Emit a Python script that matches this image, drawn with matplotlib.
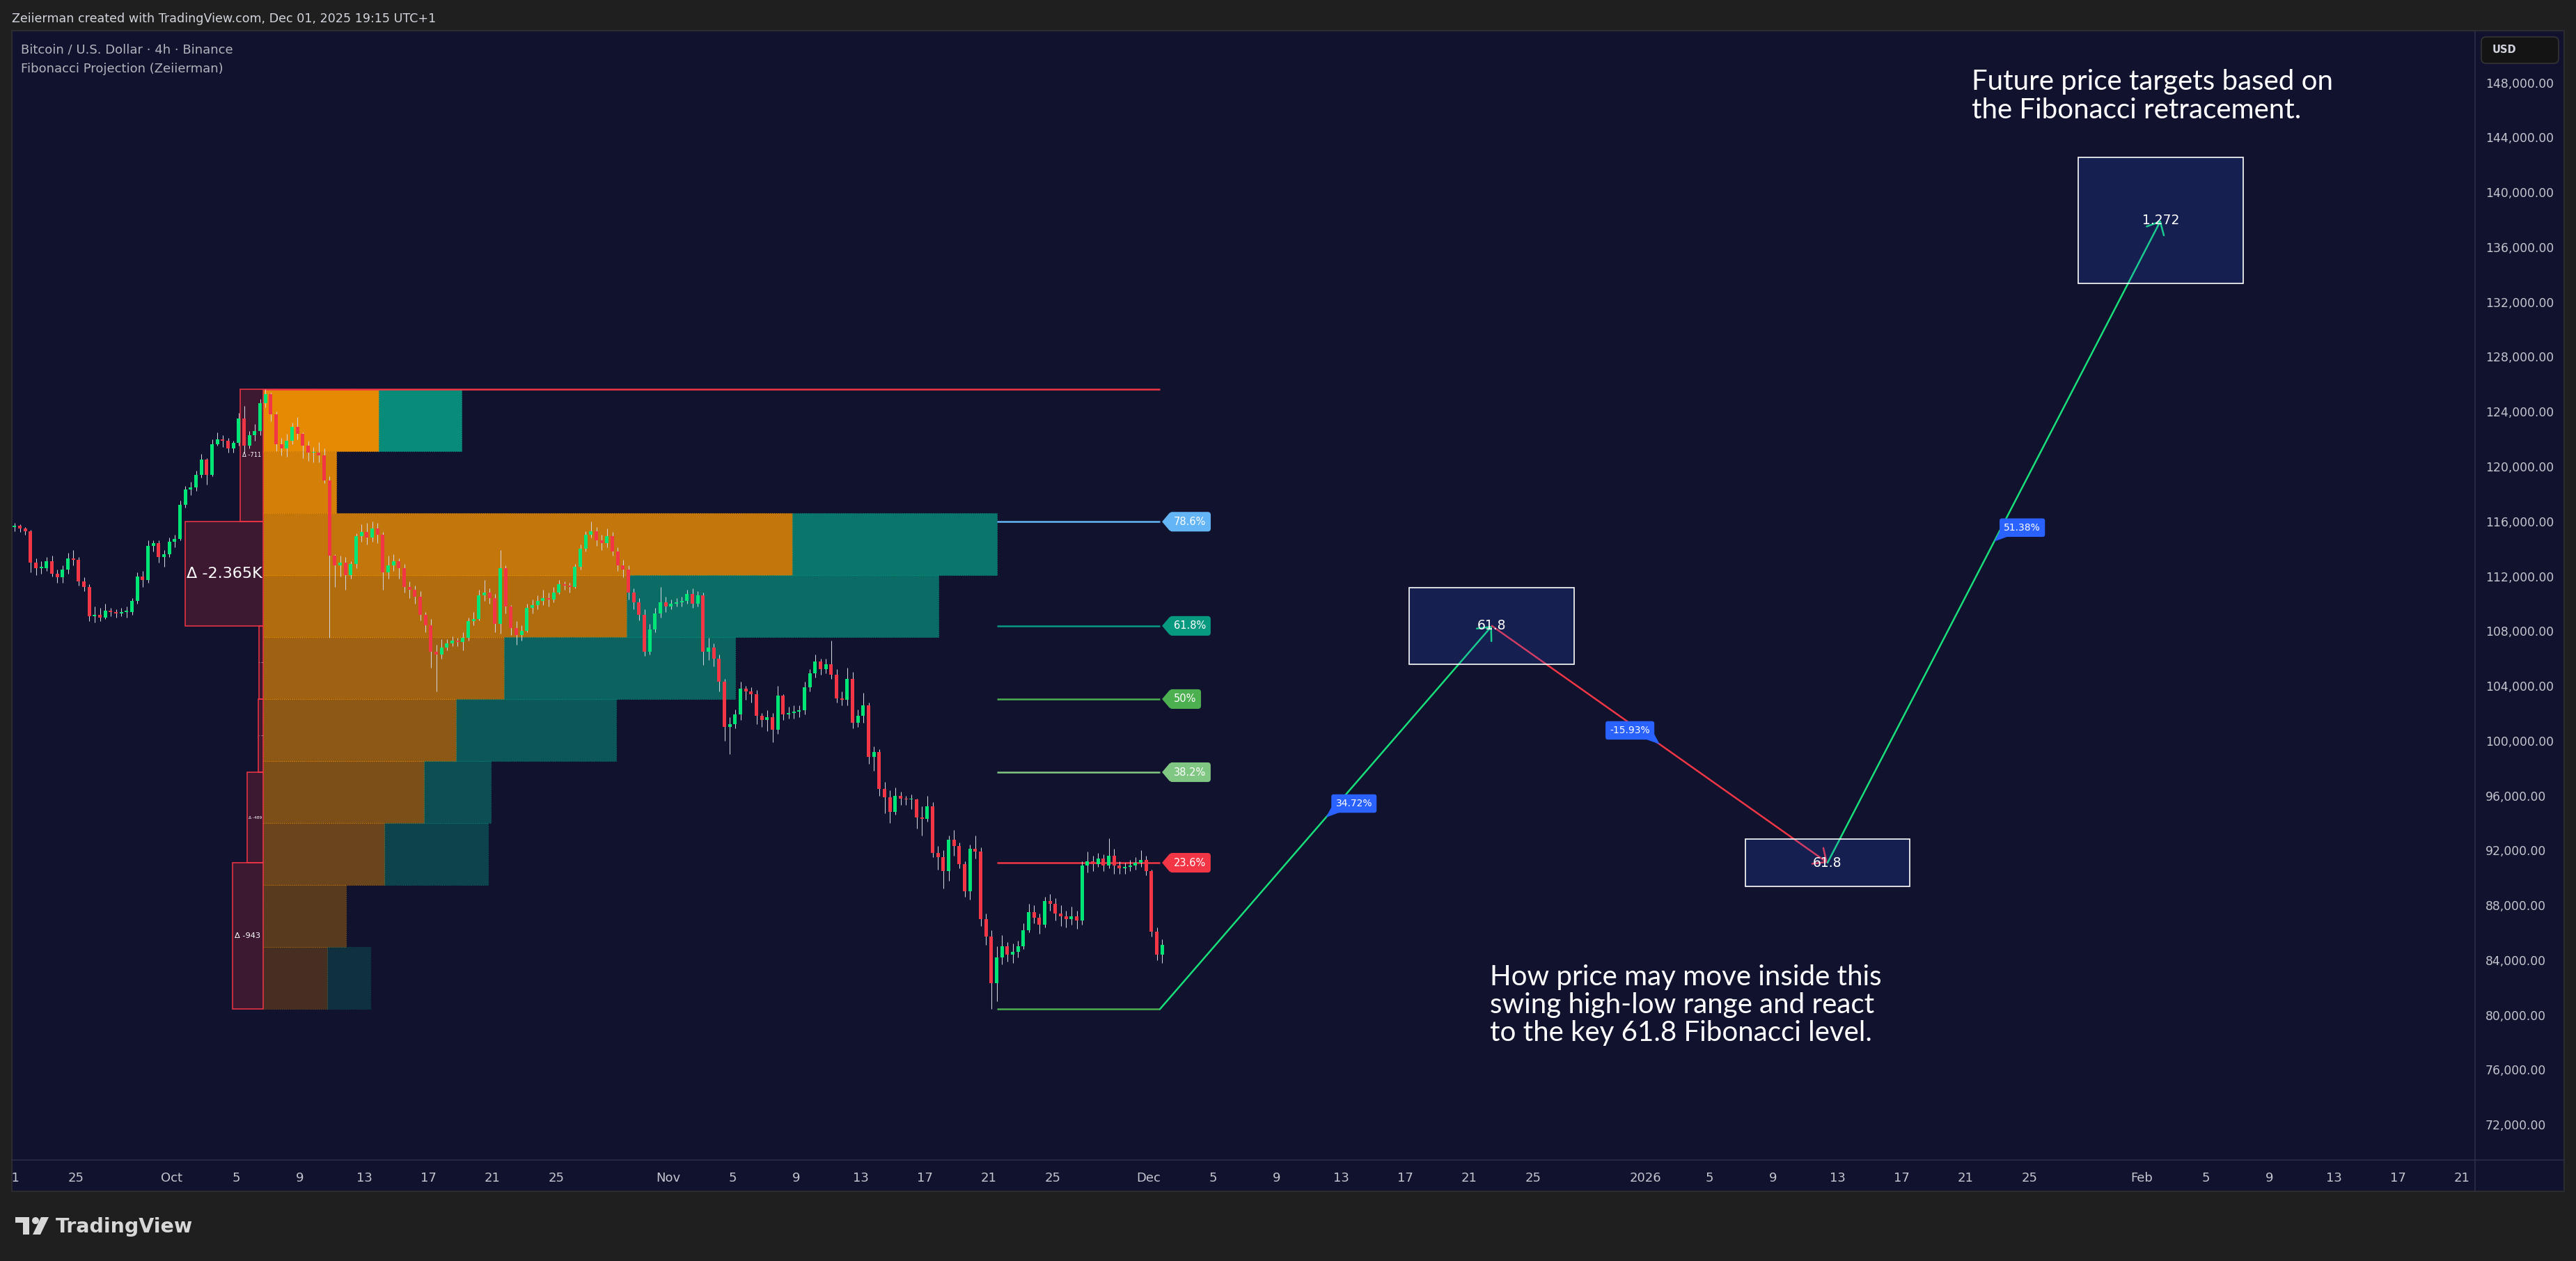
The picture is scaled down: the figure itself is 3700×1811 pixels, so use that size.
import matplotlib
matplotlib.use("Agg")
import numpy as np
import matplotlib.pyplot as plt
from matplotlib.patches import Rectangle, Polygon, Circle, FancyBboxPatch
from matplotlib.colors import to_rgba

# BTC/USD (Binance) 8h candles from Sep 21 2025 00:00, prices in $k
first_open = 115.6
closes = [
    115.7, 115.5, 115.3,  113.0, 112.6, 112.6,  113.1, 112.2, 111.9,  112.5, 113.3, 113.2,   # Sep 21-24
    111.6, 111.2, 109.1,  109.2, 109.0, 109.5,  109.4, 109.3, 109.4,  109.4, 110.2, 112.0,   # Sep 25-28
    111.7, 114.2, 114.4,  113.4, 113.6, 114.5,                                               # Sep 29-30
    114.7, 117.2, 118.3,  118.5, 119.4, 120.5,  119.4, 121.6, 122.0,  121.9, 121.3, 121.7,   # Oct 1-4
    123.5, 121.5, 122.3,  122.6, 124.6, 125.3,  123.8, 121.6, 121.3,  121.9, 122.9, 122.4,   # Oct 5-8
    121.5, 121.0, 121.0,  120.8, 119.0, 113.5,  112.8, 113.0, 112.1,  112.9, 114.9, 115.2,   # Oct 9-12
    114.8, 115.5, 115.0,  112.3, 112.8, 113.1,  112.6, 111.2, 111.0,  110.5, 109.2, 108.4,   # Oct 13-16
    106.5, 106.3, 106.8,  107.1, 107.3, 107.2,  107.5, 108.7, 108.9,  110.6, 110.8, 110.4,   # Oct 17-20
    108.5, 112.6, 109.8,  108.2, 107.7, 108.0,  109.7, 109.9, 110.2,  110.4, 110.3, 110.8,   # Oct 21-24
    111.4, 111.3, 111.2,  112.7, 114.0, 115.0,  115.3, 114.6, 114.4,  114.9, 113.8, 112.8,   # Oct 25-28
    112.5, 110.8, 110.1,  109.2, 106.5, 108.1,  109.3, 110.1, 109.8,                         # Oct 29-31
    110.0, 110.1, 110.2,  110.7, 110.0, 110.6,  106.5, 106.8, 106.0,  104.3, 101.0, 101.2,   # Nov 1-4
    101.9, 103.8, 103.6,  103.4, 101.8, 101.5,  101.7, 100.8, 103.3,  101.9, 102.0, 102.1,   # Nov 5-8
    102.2, 103.9, 104.9,  105.8, 105.2, 105.6,  104.8, 103.1, 103.0,  104.5, 101.3, 101.8,   # Nov 9-12
    102.6, 98.8, 99.2,    96.5, 95.9, 94.8,     96.0, 95.8, 95.7,     95.7, 94.4, 94.3,      # Nov 13-16
    95.2, 91.8, 91.5,     90.5, 92.8, 92.3,     91.0, 89.0, 92.1,     91.9, 87.0, 85.7,      # Nov 17-20
    82.3, 84.2, 85.0,     84.4, 84.6, 85.0,     86.2, 87.5, 87.1,     86.6, 88.3, 88.1,      # Nov 21-24
    87.4, 87.2, 87.0,     87.2, 86.9, 90.9,     91.2, 91.0, 91.4,     90.9, 91.6, 90.9,      # Nov 25-28
    90.7, 90.8, 90.9,     91.1, 91.3, 90.5,     86.1, 84.4, 85.1,                            # Nov 29 - Dec 1
]
highs = [
    115.9, 115.8, 115.6,  115.4, 113.3, 113.1,  113.4, 113.5, 112.5,  112.8, 113.7, 113.9,
    113.4, 111.9, 111.4,  109.8, 109.7, 110.0,  109.7, 109.6, 109.7,  109.8, 110.4, 112.3,
    112.4, 114.6, 114.6,  114.6, 113.9, 114.8,
    115.0, 117.5, 118.6,  118.9, 119.7, 120.9,  120.6, 122.0, 122.5,  122.3, 122.1, 121.9,
    123.9, 124.4, 122.6,  123.1, 124.9, 125.65, 125.4, 124.0, 122.1,  122.4, 123.2, 123.6,
    122.5, 121.9, 121.4,  121.8, 121.3, 119.3,  113.6, 113.5, 113.4,  113.1, 115.1, 115.8,
    115.9, 116.0, 115.9,  115.2, 113.5, 113.6,  113.3, 112.9, 111.6,  111.3, 110.9, 109.4,
    108.9, 107.0, 107.4,  107.4, 107.6, 107.5,  107.9, 109.0, 109.4,  111.0, 111.7, 111.1,
    110.7, 113.9, 112.8,  109.9, 108.7, 108.4,  110.0, 110.3, 110.6,  111.0, 110.8, 111.2,
    111.7, 111.6, 111.5,  112.9, 114.3, 115.3,  116.0, 115.6, 115.0,  115.5, 115.2, 114.1,
    113.2, 112.8, 111.1,  110.4, 109.6, 108.5,  109.7, 111.2, 110.5,
    110.3, 110.4, 110.5,  111.0, 111.1, 110.9,  110.8, 107.5, 107.1,  106.3, 104.5, 101.7,
    102.3, 104.3, 104.0,  103.9, 103.7, 102.0,  102.2, 102.0, 104.0,  103.4, 102.5, 102.6,
    102.6, 104.3, 105.2,  106.3, 106.0, 106.0,  107.3, 105.2, 103.6,  105.3, 105.0, 102.3,
    103.5, 102.8, 99.6,   99.4, 97.0, 96.4,     96.6, 96.3, 96.0,     96.1, 95.8, 95.2,
    96.0, 95.5, 92.3,     92.0, 93.1, 93.5,     92.6, 91.2, 92.4,     93.1, 92.2, 87.4,
    86.2, 85.0, 85.8,     85.3, 85.2, 85.4,     86.7, 88.1, 88.0,     87.4, 88.6, 88.8,
    88.5, 88.0, 87.6,     87.9, 87.6, 91.2,     91.9, 91.6, 91.8,     91.7, 92.9, 92.1,
    91.2, 91.1, 91.3,     91.5, 92.0, 91.6,     90.6, 86.4, 85.5,
]
lows = [
    115.3, 115.2, 115.0,  112.3, 112.1, 112.2,  112.4, 112.0, 111.5,  111.5, 112.2, 112.8,
    111.3, 110.9, 108.7,  108.6, 108.7, 108.9,  109.1, 109.0, 109.1,  109.0, 109.2, 110.0,
    111.2, 111.5, 113.8,  113.0, 112.7, 113.4,
    114.1, 114.6, 117.0,  117.9, 118.2, 119.2,  118.7, 119.3, 121.5,  121.4, 121.0, 121.0,
    121.5, 121.0, 121.3,  121.9, 122.3, 124.3,  123.3, 121.1, 120.8,  120.7, 121.6, 122.0,
    120.6, 120.4, 120.3,  120.3, 118.8, 107.5,  111.2, 112.0, 111.0,  111.8, 112.6, 114.5,
    114.3, 114.5, 114.4,  111.0, 111.8, 112.4,  111.8, 110.8, 110.4,  110.0, 108.8, 107.9,
    105.3, 103.6, 106.0,  106.6, 106.9, 106.9,  106.6, 107.3, 108.4,  108.8, 110.2, 110.0,
    107.9, 107.8, 109.3,  107.7, 107.0, 107.3,  107.9, 109.3, 109.6,  109.9, 109.8, 110.1,
    110.7, 111.0, 110.8,  111.1, 112.5, 113.8,  114.8, 114.2, 113.9,  114.1, 113.5, 112.4,
    111.9, 110.3, 109.6,  108.8, 106.2, 106.3,  107.9, 109.0, 109.4,
    109.6, 109.8, 109.8,  110.0, 109.7, 109.8,  105.5, 105.9, 105.4,  103.6, 100.0, 99.0,
    100.9, 101.5, 103.0,  102.8, 101.2, 101.0,  100.7, 99.9, 100.5,   101.5, 101.6, 101.6,
    101.7, 101.9, 103.6,  104.6, 104.8, 104.9,  104.5, 102.8, 102.6,  102.6, 100.9, 101.0,
    101.3, 98.3, 97.8,    96.0, 94.7, 94.0,     94.6, 95.3, 95.3,     95.0, 93.6, 93.1,
    94.1, 91.5, 90.6,     89.2, 89.8, 91.6,     90.7, 88.6, 88.4,     91.4, 86.5, 85.1,
    80.43, 81.0, 83.7,    83.9, 83.8, 84.2,     84.8, 86.0, 86.7,     85.9, 86.4, 87.6,
    86.9, 86.5, 86.4,     86.6, 86.3, 86.6,     90.4, 90.5, 90.8,     90.5, 90.7, 90.3,
    90.3, 90.3, 90.5,     90.6, 90.8, 90.2,     85.7, 84.0, 83.8,
]
first_day = -10          # Sep 21 2025, in days since Oct 1 2025
bars_per_day = 3

# Fibonacci swing
swing_high = 125_650
swing_low = 80_430
swing_high_day = 5.70
swing_low_day = 51.52
last_bar_day = 61.70

fib_ratios = [0.786, 0.618, 0.5, 0.382, 0.236]
fib_labels = ["78.6%", "61.8%", "50%", "38.2%", "23.6%"]
fib_colors = ["#64B5F6", "#089981", "#4CAF50", "#81C784", "#F23645"]

# volume profile rows, top -> bottom
vol_orange = [16.6, 10.5, 76.0, 52.2, 34.6, 27.7, 23.1, 17.4, 11.9, 9.2]
vol_teal = [11.9, 0.0, 29.4, 44.8, 33.2, 23.0, 9.6, 14.9, 0.0, 6.2]

# delta per fib zone, top -> bottom
zone_bounds = [1.0, 0.786, 0.618, 0.5, 0.382, 0.236, 0.0]
zone_delta = [-711, -2365, -135, -140, -489, -943]
zone_text = ["Δ -711", "Δ -2.365K", "Δ -135", "Δ -140", "Δ -489", "Δ -943"]

# projected path
proj_days = [61.70, 82.43, 103.39, 124.20]
proj_ratios = [0.0, 0.618, 0.236, 1.272]
proj_pct = ["34.72%", "-15.93%", "51.38%"]
target_text = ["61.8", "61.8", "1.272"]
target_half_h = [2800, 1730, 4620]
target_half_w = 5.15

x_ticks = [-10, -6, 0, 4, 8, 12, 16, 20, 24, 31, 35, 39, 43, 47, 51, 55, 61, 65, 69, 73,
           77, 81, 85, 92, 96, 100, 104, 108, 112, 116, 123, 127, 131, 135, 139, 143]
x_labels = ["21", "25", "Oct", "5", "9", "13", "17", "21", "25", "Nov", "5", "9", "13", "17",
            "21", "25", "Dec", "5", "9", "13", "17", "21", "25", "2026", "5", "9", "13", "17",
            "21", "25", "Feb", "5", "9", "13", "17", "21"]
y_ticks = list(range(72_000, 148_001, 4_000))

# ---------------- style ----------------
W, H, DPI = 3700, 1811, 100
OUTER = "#1F1F1F"
BG = "#11122D"
GRID = "#2B2E45"
TXT = "#C3C6CE"
UP = "#00E676"
DOWN = "#F23645"
ORANGE = "#FF9800"
TEAL = "#089981"
BLUE = "#2962FF"
PATH_UP = "#17E07A"

fig = plt.figure(figsize=(W / DPI, H / DPI), dpi=DPI, facecolor=OUTER)

# frame axes in pixel coordinates (y down) for the chrome
frame = fig.add_axes([0, 0, 1, 1])
frame.set_xlim(0, W)
frame.set_ylim(H, 0)
frame.axis("off")
frame.add_patch(Rectangle((17, 44), 3666, 1667, fc=BG, ec="#2C2C30", lw=1.5))
frame.plot([3555, 3555], [44, 1711], color=GRID, lw=1.2)
frame.plot([17, 3683], [1666, 1666], color=GRID, lw=1.2)

frame.text(17, 27, "Zeiierman created with TradingView.com, Dec 01, 2025 19:15 UTC+1",
           color="#D1D4DC", fontsize=12.6, va="center")
frame.text(30, 71, "Bitcoin / U.S. Dollar · 4h · Binance", color="#B2B5BE", fontsize=13, va="center")
frame.text(30, 99, "Fibonacci Projection (Zeiierman)", color="#B2B5BE", fontsize=13, va="center")

frame.add_patch(FancyBboxPatch((3564, 53), 111, 38, boxstyle="round,pad=0,rounding_size=7",
                               fc="#141414", ec="#3A3A3A", lw=1))
frame.text(3580, 72, "USD", color="#D1D4DC", fontsize=10.5, va="center", weight="bold")

for i, line in enumerate(["Future price targets based on", "the Fibonacci retracement."]):
    frame.text(2832, 117 + 42 * i, line, color="white", fontsize=29, family="Lato", va="center")
for i, line in enumerate(["How price may move inside this", "swing high-low range and react",
                          "to the key 61.8 Fibonacci level."]):
    frame.text(2140, 1404 + 40 * i, line, color="white", fontsize=29, family="Lato", va="center")

# TradingView logo
LOGO = "#D8D8D8"
frame.add_patch(Rectangle((22, 1748), 20, 8, fc=LOGO, ec="none"))
frame.add_patch(Rectangle((33, 1748), 9, 25, fc=LOGO, ec="none"))
frame.add_patch(Circle((51, 1753), 5, fc=LOGO, ec="none"))
frame.add_patch(Polygon([(47, 1773), (58, 1773), (70, 1748), (59, 1748)], fc=LOGO, ec="none"))
frame.text(80, 1762, "TradingView", color=LOGO, fontsize=20.5, weight="bold", va="center")

# main price axes
ax = fig.add_axes([17 / W, 1 - 1666 / H, 3538 / W, 1622 / H])
ax.set_facecolor("none")
ax.set_xlim(-10, -10 + 3538 / 23)
ax.set_ylim(69_419, 151_788)
for s in ax.spines.values():
    s.set_visible(False)
x0, x1 = ax.get_xlim()
y0, y1 = ax.get_ylim()
px_x = (x1 - x0) / 3538      # days per pixel
px_y = (y1 - y0) / 1622      # dollars per pixel

ax.yaxis.tick_right()
ax.set_yticks(y_ticks)
ax.set_yticklabels([f"{v:,.2f}" for v in y_ticks])
ax.tick_params(axis="y", length=0, pad=10.8, labelsize=12.4, labelcolor=TXT)
ax.set_xticks(x_ticks)
ax.set_xticklabels(x_labels)
ax.tick_params(axis="x", length=0, pad=12, labelsize=13, labelcolor=TXT)
first_lbl = ax.get_xticklabels()[0]
first_lbl.set_clip_on(True)
first_lbl.set_clip_path(frame.patches[0])

rng = swing_high - swing_low

# volume profile
row_h = rng / len(vol_orange)
unit = 10 * px_x
for i, (a, b) in enumerate(zip(vol_orange, vol_teal)):
    yc = swing_high - (i + 0.5) * row_h
    al = 0.9 - 0.075 * i
    ax.barh(yc, a * unit, left=swing_high_day, height=row_h, color=to_rgba(ORANGE, al),
            edgecolor=to_rgba(ORANGE, min(1, al + 0.1)), lw=0.8, ls=":", zorder=2)
    if b > 0:
        ax.barh(yc, b * unit, left=swing_high_day + a * unit, height=row_h, color=to_rgba(TEAL, al),
                edgecolor=to_rgba(TEAL, min(1, al + 0.1)), lw=0.8, ls=":", zorder=2)

# delta boxes
zone_fs = [6.0, 16.0, 1.4, 1.4, 4.2, 8.2]
for k, d in enumerate(zone_delta):
    top = swing_low + zone_bounds[k] * rng
    bot = swing_low + zone_bounds[k + 1] * rng
    w = abs(d) * 0.0472 * px_x
    ax.barh((top + bot) / 2, w, left=swing_high_day - w, height=top - bot,
            color=to_rgba(DOWN, 0.2), edgecolor=DOWN, lw=1.1, zorder=2)
    ax.text(swing_high_day - w / 2, (top + bot) / 2, zone_text[k], color="white",
            fontsize=zone_fs[k], ha="center", va="center", zorder=3)

# fib lines
ax.hlines(swing_high, swing_high_day, last_bar_day, color=DOWN, lw=1.8, zorder=3)
ax.hlines(swing_low, swing_low_day, last_bar_day, color="#4CAF50", lw=1.8, zorder=3)
for r, lab, col in zip(fib_ratios, fib_labels, fib_colors):
    lvl = swing_low + r * rng
    ax.hlines(lvl, swing_low_day, last_bar_day, color=col, lw=1.8, zorder=3)
    tip = last_bar_day + 3 * px_x
    base = last_bar_day + 13 * px_x
    ax.add_patch(Polygon([(tip, lvl), (base + px_x, lvl + 13 * px_y), (base + px_x, lvl - 13 * px_y)],
                         fc=col, ec="none", zorder=6))
    ax.annotate(lab, (base, lvl), xytext=(7, 0), textcoords="offset pixels", ha="left", va="center",
                fontsize=10.5, color="white", zorder=7,
                bbox=dict(boxstyle="round,pad=0.45,rounding_size=0.3", fc=col, ec="none"))

# candles
opens = [first_open] + closes[:-1]
xs = [first_day + (i + 0.5) / bars_per_day for i in range(len(closes))]
o = np.array(opens) * 1000
c = np.array(closes) * 1000
hi = np.array(highs) * 1000
lo = np.array(lows) * 1000
ax.vlines(xs, lo, hi, color="#D1D4DC", lw=0.75, zorder=4)
body = np.maximum(np.abs(c - o), 1.2 * px_y)
cols = [UP if cc >= oo else DOWN for oo, cc in zip(o, c)]
ax.bar(xs, body, bottom=np.minimum(o, c), width=5 * px_x, color=cols, zorder=5)

# projection path
pp = [swing_low + r * rng for r in proj_ratios]
for k in range(3):
    col = PATH_UP if pp[k + 1] > pp[k] else DOWN
    ax.annotate("", xy=(proj_days[k + 1], pp[k + 1]), xytext=(proj_days[k], pp[k]), zorder=6,
                arrowprops=dict(arrowstyle="->,head_length=1.1,head_width=1.0", color=col, lw=1.8,
                                shrinkA=0, shrinkB=0, mutation_scale=10))
    xm = (proj_days[k] + proj_days[k + 1]) / 2
    ym = (pp[k] + pp[k + 1]) / 2
    sgn = 1 if pp[k + 1] > pp[k] else -1
    ax.add_patch(Polygon([(xm, ym), (xm + sgn * 8 * px_x, ym + 15 * px_y), (xm + sgn * 19 * px_x, ym + 7 * px_y)],
                         fc=BLUE, ec="none", zorder=7))
    ax.annotate(proj_pct[k], (xm, ym), xytext=(sgn * 14, 13), textcoords="offset pixels",
                ha="left" if sgn > 0 else "right", va="bottom", fontsize=10, color="white", zorder=8,
                bbox=dict(boxstyle="round,pad=0.45,rounding_size=0.25", fc=BLUE, ec="none"))

for k in range(3):
    xc, yc = proj_days[k + 1], pp[k + 1]
    hh = target_half_h[k]
    ax.add_patch(Rectangle((xc - target_half_w, yc - hh), 2 * target_half_w, 2 * hh,
                           fc=to_rgba(BLUE, 0.17), ec="white", lw=1.2, zorder=7))
    ax.text(xc, yc, target_text[k], color="white", fontsize=13.5,
            ha="center", va="center", zorder=8)

fig.savefig("out.png", dpi=DPI, facecolor=OUTER)
